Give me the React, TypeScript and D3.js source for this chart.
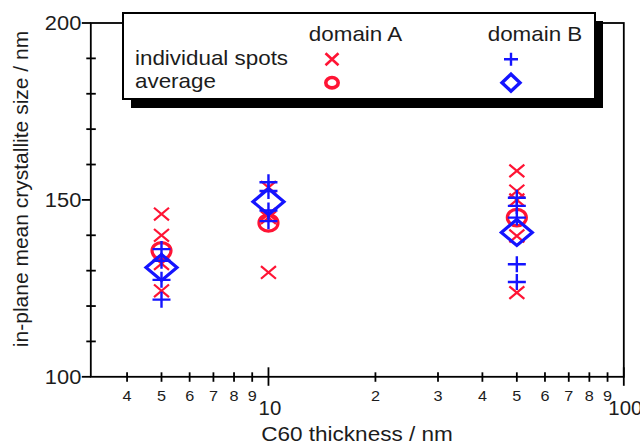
import React from 'react';
import * as d3 from 'd3';

// C60 thickness (nm) for each cluster of measurements
const thickness = [5, 10, 50];

// individual spots, one list per thickness
const spotsA = [
  [146, 140, 132, 124.3],
  [153.5, 146, 145, 129.5],
  [158.2, 152.5, 150, 139.8, 123.8],
];
const spotsB = [
  [136.1, 132.8, 127.4, 121.8],
  [155, 152.5, 147, 144],
  [150.6, 148.3, 145, 131.8, 126.8],
];

// averages
const averageA = [135.6, 143.5, 145];
const averageB = [130.9, 149.5, 140.8];

const xMajorTicks = [10, 100];
const xMinorTicks = [4, 5, 6, 7, 8, 9, 20, 30, 40, 50, 60, 70, 80, 90];
const yMajorTicks = [100, 150, 200];
const yMinorTicks = [110, 120, 130, 140, 160, 170, 180, 190];

const RED = '#ff1434';
const BLUE = '#1414ff';
const INK = '#1c1c1c';
const FONT = '"Liberation Sans", Arial, sans-serif';

const W = 640;
const H = 443;

const x = d3.scaleLog().domain([Math.sqrt(10), 100]).range([90.8, 623.8]);
const y = d3.scaleLinear().domain([100, 200]).range([376.8, 23]);

// text slightly stretched horizontally, like the original figure
const Label = ({ tx, ty, size, anchor = 'start', sx = 1.12, children }: any) => (
  <text
    transform={`translate(${tx},${ty}) scale(${sx},1)`}
    fontSize={size}
    textAnchor={anchor}
    fill={INK}
    fontFamily={FONT}
  >
    {children}
  </text>
);

const Cross = ({ cx, cy, hw, hh, sw }: any) => (
  <path
    d={`M${cx - hw},${cy - hh}L${cx + hw},${cy + hh}M${cx - hw},${cy + hh}L${cx + hw},${cy - hh}`}
    stroke={RED}
    strokeWidth={sw}
    fill="none"
  />
);

const Plus = ({ cx, cy, hw, hh, sw }: any) => (
  <path
    d={`M${cx - hw},${cy}L${cx + hw},${cy}M${cx},${cy - hh}L${cx},${cy + hh}`}
    stroke={BLUE}
    strokeWidth={sw}
    fill="none"
  />
);

const Ring = ({ cx, cy, rx, ry, sw }: any) => (
  <ellipse cx={cx} cy={cy} rx={rx} ry={ry} stroke={RED} strokeWidth={sw} fill="none" />
);

const Diamond = ({ cx, cy, hw, hh, sw }: any) => (
  <path
    d={`M${cx},${cy - hh}L${cx + hw},${cy}L${cx},${cy + hh}L${cx - hw},${cy}Z`}
    stroke={BLUE}
    strokeWidth={sw}
    fill="none"
    strokeLinejoin="miter"
  />
);

export default function App() {
  const [x0, x1] = x.range();
  const yb = y(100);
  const yt = y(200);

  return (
    <svg
      width={W}
      height={H}
      style={{ position: 'absolute', left: 0, top: 0, background: '#fff' }}
    >
      {/* frame */}
      <rect x={x0} y={yt} width={x1 - x0} height={yb - yt} fill="none" stroke="#000" strokeWidth={1.8} />

      {/* y ticks */}
      {yMinorTicks.map(v => (
        <line key={'ym' + v} x1={x0 - 4.5} x2={x0 + 5} y1={y(v)} y2={y(v)} stroke="#000" strokeWidth={1.8} />
      ))}
      {yMajorTicks.map(v => (
        <g key={'yM' + v}>
          <line x1={x0 - 9} x2={x0} y1={y(v)} y2={y(v)} stroke="#000" strokeWidth={1.8} />
          <Label tx={x0 - 9.5} ty={y(v) + 7} size={19.5} anchor="end">{v}</Label>
        </g>
      ))}

      {/* x ticks */}
      {xMinorTicks.map(v => (
        <g key={'xm' + v}>
          <line x1={x(v)} x2={x(v)} y1={yb - 4.5} y2={yb + 5} stroke="#000" strokeWidth={1.8} />
          <Label tx={x(v)} ty={401} size={15} anchor="middle" sx={1.08}>
            {String(v).charAt(0)}
          </Label>
        </g>
      ))}
      {xMajorTicks.map(v => (
        <g key={'xM' + v}>
          <line x1={x(v)} x2={x(v)} y1={yb - 9.5} y2={yb + 9} stroke="#000" strokeWidth={1.8} />
          <Label tx={x(v) + 1.5} ty={415} size={20} anchor="middle" sx={1.02}>{v}</Label>
        </g>
      ))}

      {/* axis titles */}
      <Label tx={357} ty={441} size={20.5} anchor="middle" sx={1.1}>C60 thickness / nm</Label>
      <text
        transform={`translate(28,189) rotate(-90)`}
        fontSize={21}
        textAnchor="middle"
        fill={INK}
        fontFamily={FONT}
      >
        in-plane mean crystallite size / nm
      </text>

      {/* data */}
      {thickness.map((t, i) =>
        spotsA[i].map((v, j) => <Cross key={`a${i}-${j}`} cx={x(t)} cy={y(v)} hw={7.5} hh={6.3} sw={2.2} />)
      )}
      {thickness.map((t, i) => (
        <Ring key={'ra' + i} cx={x(t)} cy={y(averageA[i])} rx={9.5} ry={8.3} sw={3.2} />
      ))}
      {thickness.map((t, i) =>
        spotsB[i].map((v, j) => <Plus key={`b${i}-${j}`} cx={x(t)} cy={y(v)} hw={9} hh={8} sw={2.4} />)
      )}
      {thickness.map((t, i) => (
        <Diamond key={'db' + i} cx={x(t)} cy={y(averageB[i])} hw={15.5} hh={13} sw={3.2} />
      ))}

      {/* legend */}
      <rect x={131} y={21} width={472} height={87} fill="#000" />
      <rect x={123} y={13} width={472} height={86} fill="#fff" stroke="#000" strokeWidth={2} />
      <Label tx={355.5} ty={40.5} size={20} anchor="middle">domain A</Label>
      <Label tx={535} ty={40.5} size={20} anchor="middle">domain B</Label>
      <Label tx={135} ty={65} size={20}>individual spots</Label>
      <Label tx={135} ty={88} size={20}>average</Label>
      <Cross cx={332} cy={59.3} hw={6.5} hh={6} sw={2.6} />
      <Ring cx={332} cy={82.7} rx={6.2} ry={5.2} sw={3.6} />
      <Plus cx={511} cy={59.3} hw={7} hh={6.5} sw={2.4} />
      <Diamond cx={511} cy={82.7} hw={9} hh={8.5} sw={3.4} />
    </svg>
  );
}
